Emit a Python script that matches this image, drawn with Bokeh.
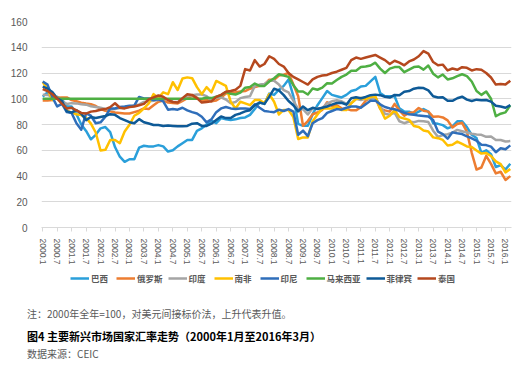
from bokeh.plotting import figure
from bokeh.models import Range1d, FixedTicker, Legend, LegendItem, Div
from bokeh.layouts import column
from bokeh.embed import file_html
from bokeh.resources import INLINE

# month index from 2000.1 (=0), sampled every 2 months up to 2016.3 (=194)
months = list(range(0, 195, 2))

tick_pos = list(range(0, 193, 6))
tick_labels = ["2000.1", "2000.7", "2001.1", "2001.7", "2002.1", "2002.7", "2003.1", "2003.7",
               "2004.1", "2004.7", "2005.1", "2005.7", "2006.1", "2006.7", "2007.1", "2007.7",
               "2008.1", "2008.7", "2009.1", "2009.7", "2010.1", "2010.7", "2011.1", "2011.7",
               "2012.1", "2012.7", "2013.1", "2013.7", "2014.1", "2014.7", "2015.1", "2015.7",
               "2016.1"]

brazil = [101.6, 105, 100, 101.5, 99.5, 94,
          94, 88, 80, 75, 68.5, 72,
          77, 78, 74, 62.5, 55, 51,
          53, 53, 62, 63.5, 63, 63,
          64, 63, 59, 60, 63, 65.5,
          68, 68, 75, 77, 80, 83,
          81, 85, 84, 83.5, 84, 85,
          85.5, 87.5, 92, 97, 96, 104,
          103, 107, 110, 115, 102, 80.5,
          79, 79, 88, 95, 100.5, 106,
          103, 102, 101, 103, 106, 107,
          109.5, 110, 113.5, 117, 104.5, 102,
          102, 102, 92.5, 90, 90, 88,
          90, 92, 90, 81, 80.5, 79.5,
          77, 78.5, 82.5, 82.5, 78, 72,
          69.5, 58, 60, 57, 47, 48.5,
          45, 49.5]

russia = [98.7, 98.7, 99, 100.8, 101, 101,
          99, 98, 97, 96.3, 95.7, 94.4,
          92.2, 90.7, 90.2, 89.3, 89, 88.5,
          88.5, 89.6, 90.7, 92.5, 92, 95,
          97.7, 98.7, 97, 96.7, 96.3, 98.4,
          100.5, 102, 100.8, 98.4, 99, 98,
          98.7, 101, 104, 104.6, 105, 105.7,
          106, 107.8, 109, 110, 111, 114.8,
          114.8, 118, 118.7, 120, 111, 102,
          79, 82.7, 88, 89.3, 91.3, 97.3,
          94.4, 95, 92.5, 92.2, 91, 91,
          93.5, 98.4, 100.8, 100.8, 92.2, 91,
          90, 96, 91, 86.8, 89, 89.6,
          92.8, 90.7, 90, 86, 86.3, 85.5,
          83.2, 77.7, 80.4, 81.3, 74.4, 58,
          45, 46.6, 55.6, 49.4, 42, 43.3,
          36.9, 39.9]

india = [103.2, 103, 101.4, 100.3, 98, 96,
         96.6, 96.4, 95.8, 95.4, 94.2, 93.6,
         93, 92, 91.7, 92, 92.8, 93,
         93.8, 94.6, 95.6, 97.5, 98, 98.5,
         99, 100, 99.2, 97.7, 97.5, 99.6,
         102.6, 102.8, 103.3, 103.3, 102, 98.3,
         101.2, 101, 99.4, 96.6, 97.5, 100.5,
         101.4, 102, 110, 111, 111.5, 114,
         114, 111, 106.7, 105, 98.5, 91.7,
         92, 87.8, 92.7, 92.7, 92.8, 96.4,
         98, 98.8, 98, 96, 96.6, 99.9,
         99, 99.9, 100, 101.2, 94.4, 88.3,
         87.6, 89.3, 82.5, 81, 82.3, 81.7,
         82.8, 82.6, 81.9, 75.2, 70.4, 71.8,
         72.4, 73.7, 75.8, 74.8, 73.8, 72.8,
         72.2, 72, 70.4, 70.7, 67.9, 68,
         66.8, 67.1]

south_africa = [113, 107.6, 99, 101, 96.7, 90.7,
                89.2, 88, 87.3, 85.3, 80.7, 73.8,
                59.8, 60.3, 68, 68, 65.5, 74.6,
                79.8, 86.8, 89, 92.5, 96.4, 103.6,
                100.6, 105, 103.6, 112.8, 106.8, 115.7,
                116.6, 116, 109, 103.6, 109, 105,
                113.8, 112, 110, 97.7, 92.5, 97.7,
                96.4, 95, 99, 99, 96.4, 103.6,
                97.7, 87.8, 91.3, 91.3, 85.7, 68.7,
                70, 70, 82.6, 87.8, 92.5, 92.5,
                92.5, 93.8, 91.3, 91.3, 96.4, 99.8,
                100.6, 99.8, 101.3, 102, 92.5, 84.6,
                86.8, 91.3, 85.7, 84.6, 83.6, 78.9,
                78, 75.4, 74.6, 70, 69.4, 68,
                63.7, 64.3, 66.7, 64.9, 63, 62.5,
                59.8, 57.4, 57.8, 55.5, 51.4, 49.2,
                42.8, 45.4]

indonesia = [113.4, 111, 101.3, 94, 96, 89.6,
             89, 81, 76, 88.6, 86.8, 81,
             81.7, 86, 92.5, 92.5, 93.6, 94,
             94.6, 94.6, 101.4, 100.2, 100.2, 99,
             99.6, 98, 91.5, 92, 91.5, 93,
             91, 89.6, 88.6, 86, 81.7, 84,
             89.6, 92.5, 93.6, 92.5, 92, 92.5,
             92.5, 92, 95.7, 93, 90.5, 90,
             89.6, 91.5, 90.5, 92, 90, 72,
             75.2, 71, 81, 83.4, 85, 89,
             90.5, 92, 91.5, 93, 94, 94,
             93, 95.7, 98.4, 98.7, 95.7, 93.6,
             92.5, 91.8, 90.6, 89, 88, 87.6,
             86.9, 86.6, 86.2, 83.4, 74.5, 72.6,
             69, 73.9, 73.2, 72.6, 70.8, 69.3,
             67.4, 64.3, 64, 62.8, 58.5, 61.5,
             60.8, 63.8]

malaysia = [100, 100, 100, 100, 100, 100,
            100, 100, 100, 100, 100, 100,
            100, 100, 100, 100, 100, 100,
            100, 100, 100, 100, 100, 100,
            100, 100, 100, 100, 100, 100,
            100, 100, 100, 100, 100.8, 100.5,
            101.6, 102.7, 105.3, 103.8, 103.3, 104.7,
            108.6, 109.2, 111.8, 110, 110, 113.4,
            115.9, 119, 118, 117, 110.5, 105.6,
            105.6, 103.3, 108, 107, 108.6, 112,
            111.8, 114.5, 117, 118.8, 121.8, 121.8,
            124.6, 125, 125.8, 128, 123.4, 120,
            123.4, 124.6, 124.6, 120.6, 122.6, 124.6,
            125, 122.6, 125.8, 119.5, 116.6, 118.8,
            115, 115.9, 117.6, 119, 117.6, 113.4,
            106, 103, 105.6, 100, 86.4, 88.4,
            89.4, 95]

philippines = [109.4, 107.8, 105.2, 100.4, 98.2, 90.2,
               89.3, 91.1, 88.4, 83.4, 85.8, 85,
               85.8, 86.6, 88, 87.5, 85, 83.4,
               81.8, 81, 84.2, 81.8, 80.8, 79.6,
               79.6, 78.9, 79.2, 78.9, 78.6, 78.6,
               78.9, 80.6, 81, 78.9, 78.9, 80.6,
               83.4, 86.3, 85, 85, 87.5, 88.6,
               90.2, 91.1, 95, 97.1, 96, 101.6,
               107.8, 106.5, 102.8, 98.2, 95, 90.2,
               94, 91.1, 93, 92, 93, 94,
               95.4, 96.7, 96.9, 95.4, 100.4, 101.1,
               100.4, 101.4, 102.8, 103.2, 102.8, 101.6,
               100.9, 103, 102.8, 105.5, 106, 107.8,
               108.6, 108.3, 106.5, 102, 101, 101.1,
               98.4, 98.4, 100.4, 101.6, 99.3, 98.2,
               99.3, 98.9, 99, 97.8, 94.6, 94,
               93, 95]

thailand = [107.5, 106, 103.5, 100, 96, 92.5,
            93, 91, 89, 88.5, 90, 90.5,
            91.5, 92, 93.5, 96.5, 93, 92.5,
            93.5, 94, 95, 96, 99.5, 101,
            102.5, 101.5, 99, 97.5, 97, 100.5,
            103.5, 103, 100.5, 97, 97.5, 98,
            101.5, 103, 105.5, 106, 107, 110,
            123, 122, 130, 125, 127, 133,
            131, 127, 125, 120, 117, 115,
            113, 111, 115, 117, 118, 118.5,
            120, 121, 122.5, 124, 130, 132,
            131, 132, 133, 134, 132, 130,
            127, 129.5, 128, 126, 129, 130.5,
            133, 137, 135, 128.5, 126, 126.5,
            122, 123.5, 122.5, 124.5, 124, 122,
            123, 122.5, 120, 116.5, 111, 111.5,
            111, 114]

names = ["巴西", "俄罗斯", "印度", "南非", "印尼", "马来西亚", "菲律宾", "泰国"]
series = [brazil, russia, india, south_africa, indonesia, malaysia, philippines, thailand]
colors = ["#2A9FDA", "#ED7D31", "#A5A5A5", "#FFC000", "#2F6EBA", "#4EAF43", "#0E5A97", "#B5481E"]

notes = ["注：2000年全年=100，对美元间接标价法，上升代表升值。",
         "图4 主要新兴市场国家汇率走势（2000年1月至2016年3月）",
         "数据来源：CEIC"]

CJK = "Noto Sans CJK SC"
LAT = "Liberation Sans"
LW = 2.5

# ---------------- main chart ----------------
p = figure(width=527, height=269, output_backend="svg", toolbar_location=None,
           x_range=Range1d(-0.5, 194.5), y_range=Range1d(0, 160),
           min_border_left=41, min_border_right=16, min_border_top=21, min_border_bottom=42)
p.outline_line_color = None
p.background_fill_color = "white"
p.border_fill_color = "white"

for name, vals, col in zip(names, series, colors):
    p.line(months, vals, line_color=col, line_width=LW, line_join="round")

p.xgrid.grid_line_color = None
p.ygrid.grid_line_color = "#D9D9D9"
p.ygrid.grid_line_width = 1
p.yaxis.ticker = FixedTicker(ticks=[0, 20, 40, 60, 80, 100, 120, 140, 160])
p.yaxis.axis_line_color = None
p.yaxis.major_tick_line_color = None
p.yaxis.minor_tick_line_color = None
p.yaxis.major_label_text_font = LAT
p.yaxis.major_label_text_font_size = "10px"
p.yaxis.major_label_text_color = "#595959"
p.yaxis.major_label_standoff = 8

p.xaxis.ticker = FixedTicker(ticks=tick_pos)
p.xaxis.major_label_overrides = {t: l for t, l in zip(tick_pos, tick_labels)}
p.xaxis.major_label_orientation = "vertical"
p.xaxis.axis_line_color = "#D9D9D9"
p.xaxis.major_tick_line_color = "#D9D9D9"
p.xaxis.major_tick_out = 4
p.xaxis.major_tick_in = 0
p.xaxis.minor_tick_line_color = None
p.xaxis.major_label_text_font = LAT
p.xaxis.major_label_text_font_size = "8.5px"
p.xaxis.major_label_text_color = "#595959"
p.xaxis.major_label_standoff = 7

# ---------------- legend strip (same side borders as the chart) ----------------
p2 = figure(width=527, height=26, output_backend="svg", toolbar_location=None,
            x_range=Range1d(0, 1), y_range=Range1d(0, 1),
            x_axis_type=None, y_axis_type=None,
            min_border_left=41, min_border_right=16, min_border_top=0, min_border_bottom=0)
p2.outline_line_color = None
p2.xgrid.grid_line_color = None
p2.ygrid.grid_line_color = None
p2.background_fill_color = "white"
p2.border_fill_color = "white"

items = []
for name, col in zip(names, colors):
    r = p2.line([float("nan")], [float("nan")], line_color=col, line_width=LW)
    items.append(LegendItem(label=name, renderers=[r]))

legend = Legend(items=items, orientation="horizontal", location=(29, 11), ncols=8,
                label_text_font=CJK, label_text_font_size="8.5px", label_text_color="#595959",
                label_text_font_style="bold",
                glyph_width=19, glyph_height=10, label_standoff=2, spacing=5,
                label_height=10, padding=0, margin=0,
                border_line_color=None, background_fill_alpha=0)
p2.add_layout(legend, "center")

# ---------------- notes ----------------
style_base = "position:absolute;left:27px;white-space:nowrap;line-height:14px;font-family:'Noto Sans CJK SC',sans-serif;"
html = ("<div style='position:relative;width:527px;height:71px;'>"
        f"<div style=\"{style_base}top:12px;font-size:10px;color:#595959;\">{notes[0]}</div>"
        f"<div style=\"{style_base}top:34px;font-size:11px;font-weight:bold;color:#000000;\">{notes[1]}</div>"
        f"<div style=\"{style_base}top:52px;font-size:10px;color:#595959;\">{notes[2]}</div>"
        "</div>")
div = Div(text=html, width=527, height=71, margin=(0, 0, 0, 0))

layout = column(p, p2, div, spacing=0)
open("out.html", "w").write(file_html(layout, INLINE))
